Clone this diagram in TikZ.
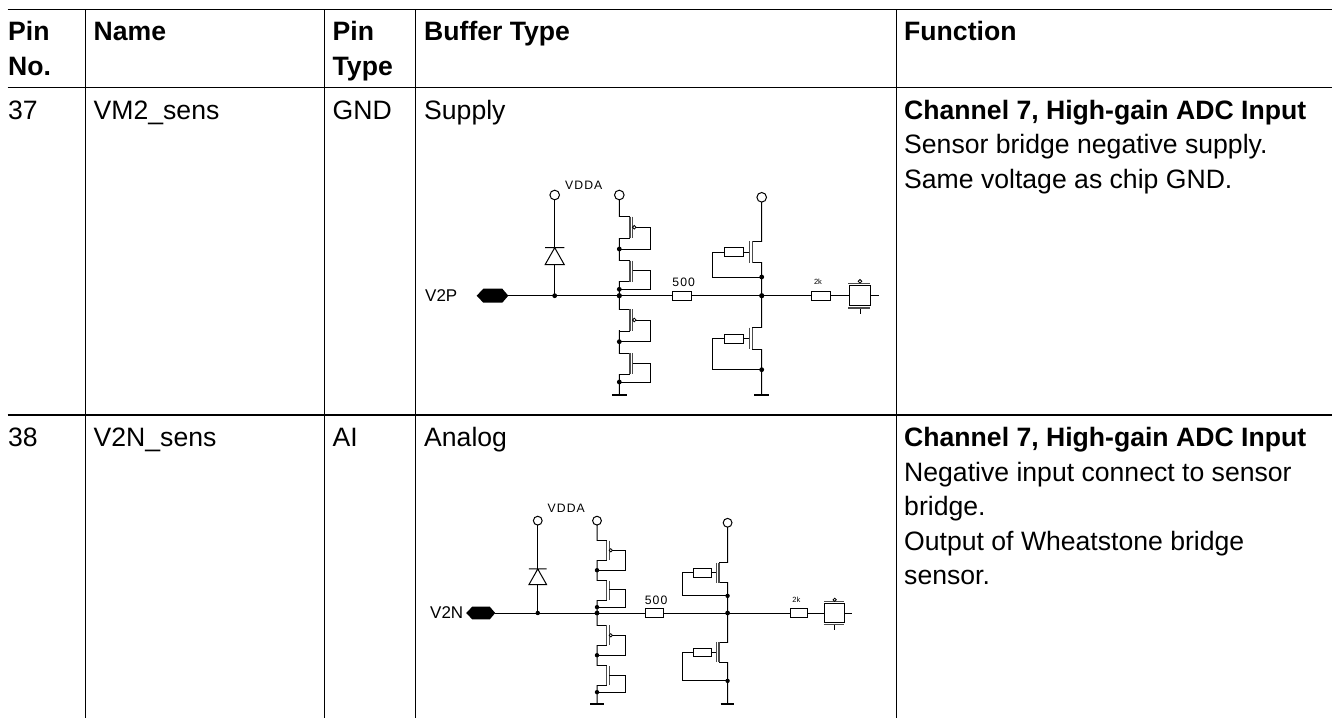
\documentclass[tikz,border=0pt]{standalone}
\usepackage{fontspec}
\setmainfont{Liberation Sans}
\newfontfamily\widefont[LetterSpace=9]{Liberation Sans}
\tikzset{
  tableline/.style={line width=1.4pt},
  wire/.style={line width=1pt},
  barline/.style={line width=1.3pt,black!70},
  cell/.style={anchor=base west,inner sep=0pt,font=\fontsize{26.6}{32}\selectfont},
  headcell/.style={cell,font=\fontsize{26.6}{32}\selectfont\bfseries},
  pinlabel/.style={inner sep=0pt,font=\fontsize{17}{18}\selectfont},
  smalllabel/.style={inner sep=0pt,font=\widefont\fontsize{12.2}{13}\selectfont},
  tinylabel/.style={inner sep=0pt,font=\fontsize{7.5}{8}\selectfont}
}
% one input network: #1,#2 main junction, #3 scale, #4 shift of the output part
\newcommand{\inputnet}[5]{
  \scope[shift={(#1,#2)},scale=#3,wire]
    % pad and main line
    \fill (-142.6,0) -- (-136,-7) -- (-117,-7) -- (-111,0) -- (-117,7) -- (-136,7) -- cycle;
    \draw (-111,0) -- (52.7,0) (72,0) -- (192+#4,0) (211+#4,0) -- (230+#4,0);
    % diode
    \draw (-64.6,-96) -- (-64.6,-47) (-64.6,-31) -- (-64.6,0);
    \draw (-74.2,-48) -- (-55,-48) (-64.6,-48) -- (-74.2,-31) -- (-55,-31) -- cycle;
    \draw (-64.6,-100.7) circle (4.8);
    \fill (-64.6,0) circle (2.4);
    % left stack
    \draw (0,-96) -- (0,99.3) (0,-100.7) circle (4.8);
    \foreach \ya/\yb/\yg/\yj/\dot in {-79/-57.4/-68.4/-46.7/1,-35/-14/-25.7/-6.4/0,13.6/35.3/24.3/46/1,57.6/78.6/67.6/86.3/0}{
      \fill[white] (-1,\ya+0.6) rectangle (9.8,\yb-0.6);
      \draw (0,\ya) -- (10.7,\ya) (0,\yb) -- (10.7,\yb);
      \draw[barline] (10.7,\ya) -- (10.7,\yb) (13.3,\ya) -- (13.3,\yb);
      \draw (13.3,\yg) -- (31.4,\yg) -- (31.4,\yj) -- (0,\yj);
      \fill (0,\yj) circle (2.4);
      \ifnum\dot=1 \draw[fill=white,line width=0.8pt] (15,\yg) circle (1.8); \fi
    }
    \fill (0,0) circle (2.6);
    \draw[line width=2.4pt] (-7.5,99.3) -- (7.5,99.3);
    % resistor in the line
    \draw[fill=white] (52.7,-4.4) rectangle (72,4.4);
    % right stack
    \draw (142.4,-93.6) -- (142.4,99.3) (142.4,-98.4) circle (4.8);
    \foreach \ya/\yb/\yg/\yj in {-54.7/-33/-43.7/-18.7,32/53.6/43/74}{
      \fill[white] (134,\ya+0.6) rectangle (143.4,\yb-0.6);
      \draw (142.4,\ya) -- (133,\ya) (142.4,\yb) -- (133,\yb);
      \draw[barline] (133,\ya) -- (133,\yb) (130,\ya) -- (130,\yb);
      \draw (130,\yg) -- (93.4,\yg) -- (93.4,\yj) -- (142.4,\yj);
      \draw[fill=white] (105,\yg-4.7) rectangle (124.4,\yg+4.7);
      \fill (142.4,\yj) circle (2.4);
    }
    \fill (142.4,0) circle (2.6);
    \draw[line width=2.4pt] (134.9,99.3) -- (149.9,99.3);
    % output part
    \scope[shift={(#4,0)}]
      \draw[fill=white] (192,-4.5) rectangle (211,4.5);
      \draw[line width=1.2pt] (230,-10) rectangle (251,10);
      \draw (251,0) -- (259.4,0) (240.7,12) -- (240.7,18.6);
      \draw[barline] (229,-12.4) -- (251,-12.4) (229,12.4) -- (251,12.4);
      \draw[line width=0.8pt] (240.7,-14.4) circle (1.8);
    \endscope
    #5
  \endscope
}
\begin{document}
\begin{tikzpicture}[x=1pt,y=-1pt]
  \useasboundingbox (0,0) rectangle (1335,718);
  % table lines
  \draw[tableline] (7.5,9.5) -- (1331.7,9.5) (7.5,87.5) -- (1331.7,87.5) (7.5,415) -- (1331.7,415);
  \draw[tableline] (85.5,9.5) -- (85.5,718) (324.5,9.5) -- (324.5,718) (415.5,9.5) -- (415.5,718) (896.5,9.5) -- (896.5,718);
  % header
  \node[headcell] (pin) at (8,40.5) {Pin};
  \node[headcell] (no) at (8,75.5) {No.};
  \node[headcell] (name) at (93.5,40.5) {Name};
  \node[headcell] (pintype) at (332.5,40.5) {Pin};
  \node[headcell] (type) at (332.5,75.5) {Type};
  \node[headcell] (buffer) at (424,40.5) {Buffer Type};
  \node[headcell] (function) at (904,40.5) {Function};
  % row 37
  \node[cell] (noa) at (8,119) {37};
  \node[cell] (namea) at (93.5,119) {VM2\_sens};
  \node[cell] (typea) at (332.5,119) {GND};
  \node[cell] (bufa) at (424,119) {Supply};
  \node[headcell] (funa) at (904,119) {Channel 7, High-gain ADC Input};
  \node[cell] (funb) at (904,153.5) {Sensor bridge negative supply.};
  \node[cell] (func) at (904,188) {Same voltage as chip GND.};
  % row 38
  \node[cell] (nob) at (8,446.5) {38};
  \node[cell] (nameb) at (93.5,446.5) {V2N\_sens};
  \node[cell] (typeb) at (332.5,446.5) {AI};
  \node[cell] (bufb) at (424,446.5) {Analog};
  \node[headcell] (fund) at (904,446.5) {Channel 7, High-gain ADC Input};
  \node[cell] (fune) at (904,481) {Negative input connect to sensor};
  \node[cell] (funf) at (904,515) {bridge.};
  \node[cell] (fung) at (904,550) {Output of Wheatstone bridge};
  \node[cell] (funh) at (904,584.5) {sensor.};
  % upper network
  \inputnet{619.3}{295.7}{1}{0}{
    \node[smalllabel] (vdda) at (-35.6,-110) {VDDA};
    \node[smalllabel] (resa) at (64.4,-13.4) {500};
    \node[tinylabel] (resb) at (198.7,-14.4) {2k};
  }
  \node[pinlabel,anchor=west] (vp) at (425,296) {V2P};
  % lower network
  \inputnet{597}{613}{0.917}{18.5}{
    \node[smalllabel] (vddb) at (-33.5,-114) {VDDA};
    \node[smalllabel] (resc) at (64.4,-13.4) {500};
    \node[tinylabel] (resd) at (217.4,-14.4) {2k};
  }
  \node[pinlabel,anchor=west] (vn) at (430,613) {V2N};
\end{tikzpicture}
\end{document}
